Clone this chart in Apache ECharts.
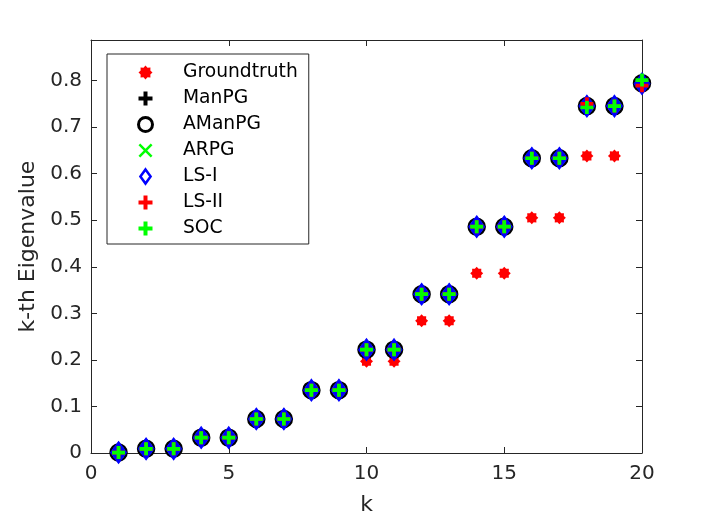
<!DOCTYPE html>
<html>
<head>
<meta charset="utf-8">
<script src="https://cdn.jsdelivr.net/npm/echarts@6/dist/echarts.min.js"></script>
<style>
  html, body { margin: 0; padding: 0; background: #fff; }
  #chartExample { width: 708px; height: 521px; }
</style>
</head>
<body>
<div id="chartExample"></div>
<script>
// k index and eigenvalues
var kValues = [1, 2, 3, 4, 5, 6, 7, 8, 9, 10, 11, 12, 13, 14, 15, 16, 17, 18, 19, 20];
var groundtruth = [0.000, 0.008, 0.008, 0.032, 0.032, 0.072, 0.072, 0.128, 0.128, 0.197, 0.197, 0.284, 0.284, 0.386, 0.386, 0.505, 0.505, 0.638, 0.638, 0.787];
var manpg  = [0.001, 0.009, 0.009, 0.033, 0.033, 0.073, 0.073, 0.135, 0.135, 0.222, 0.222, 0.341, 0.341, 0.486, 0.486, 0.633, 0.633, 0.745, 0.745, 0.794];
var amanpg = [0.001, 0.009, 0.009, 0.033, 0.033, 0.073, 0.073, 0.135, 0.135, 0.222, 0.222, 0.341, 0.341, 0.486, 0.486, 0.633, 0.633, 0.745, 0.745, 0.794];
var arpg   = [0.001, 0.009, 0.009, 0.033, 0.033, 0.073, 0.073, 0.135, 0.135, 0.222, 0.222, 0.341, 0.341, 0.486, 0.486, 0.633, 0.633, 0.745, 0.745, 0.794];
var lsI    = [0.001, 0.009, 0.009, 0.033, 0.033, 0.073, 0.073, 0.135, 0.135, 0.222, 0.222, 0.341, 0.341, 0.486, 0.486, 0.633, 0.633, 0.745, 0.745, 0.793];
var lsII   = [0.001, 0.009, 0.009, 0.033, 0.033, 0.073, 0.073, 0.135, 0.135, 0.222, 0.222, 0.341, 0.341, 0.486, 0.486, 0.633, 0.633, 0.750, 0.745, 0.789];
var soc    = [0.001, 0.009, 0.009, 0.033, 0.033, 0.073, 0.073, 0.135, 0.135, 0.222, 0.222, 0.341, 0.341, 0.486, 0.486, 0.633, 0.633, 0.742, 0.745, 0.801];

// marker shapes
var plusPath = 'path://M-2,-7H2V-2H7V2H2V7H-2V2H-7V-2H-2Z';
var crossPath = 'path://M-6,-4.5L-4.5,-6L0,-1.5L4.5,-6L6,-4.5L1.5,0L6,4.5L4.5,6L0,1.5L-4.5,6L-6,4.5L-1.5,0Z';
var diamondPath = 'path://M0,-11L8,0L0,11L-8,0Z';
var starPath = (function () {
    var pts = [];
    for (var i = 0; i < 16; i++) {
        var r = i % 2 === 0 ? 10 : 7.5;
        var a = i * Math.PI / 8 - Math.PI / 2;
        pts.push((r * Math.cos(a)).toFixed(2) + ',' + (r * Math.sin(a)).toFixed(2));
    }
    return 'path://M' + pts.join('L') + 'Z';
})();

function pairs(arr) {
    return kValues.map(function (k, i) { return [k, arr[i]]; });
}

var axisColor = '#262626';
var font = 'DejaVu Sans';

var myChart = echarts.init(document.getElementById('chartExample'));
var option = {
    animation: false,
    backgroundColor: '#fff',
    textStyle: { fontFamily: font },
    grid: { left: 91, right: 66, top: 40, bottom: 67 },
    legend: {
        orient: 'vertical',
        left: 107,
        top: 54,
        padding: [9, 11, 6, 30],
        itemWidth: 65,
        itemHeight: 14,
        itemGap: 7,
        selectedMode: false,
        borderColor: axisColor,
        borderWidth: 1,
        backgroundColor: '#fff',
        textStyle: { fontFamily: font, fontSize: 18.7, color: '#000' },
        data: [
            'Groundtruth', 'ManPG',
            { name: 'AManPG', itemStyle: { color: '#fff', borderColor: '#000', borderWidth: 3 } },
            'ARPG',
            { name: 'LS-I', itemStyle: { color: '#fff', borderColor: '#0000ff', borderWidth: 2.5 } },
            'LS-II', 'SOC'
        ]
    },
    xAxis: [{
        type: 'value', min: 0, max: 20, interval: 5,
        name: 'k', nameLocation: 'middle', nameGap: 41,
        nameTextStyle: { fontFamily: font, fontSize: 22, color: axisColor },
        axisLine: { onZero: false, lineStyle: { color: axisColor, width: 1 } },
        axisTick: { inside: true, length: 6, lineStyle: { color: axisColor } },
        axisLabel: { fontFamily: font, fontSize: 20, color: axisColor, margin: 11 },
        splitLine: { show: false }
    }, {
        type: 'value', position: 'top', min: 0, max: 20, interval: 5,
        axisLine: { show: true, onZero: false, lineStyle: { color: axisColor, width: 1 } },
        axisTick: { show: true, inside: true, length: 6, lineStyle: { color: axisColor } },
        axisLabel: { show: false },
        splitLine: { show: false }
    }],
    yAxis: [{
        type: 'value', min: 0, max: 0.887, interval: 0.1,
        name: 'k-th Eigenvalue', nameLocation: 'middle', nameGap: 50,
        nameTextStyle: { fontFamily: font, fontSize: 22, color: axisColor },
        axisLine: { show: true, onZero: false, lineStyle: { color: axisColor, width: 1 } },
        axisTick: { show: true, inside: true, length: 6, lineStyle: { color: axisColor } },
        axisLabel: { fontFamily: font, fontSize: 20, color: axisColor, margin: 9, showMaxLabel: false },
        splitLine: { show: false }
    }, {
        type: 'value', position: 'right', min: 0, max: 0.887, interval: 0.1,
        axisLine: { show: true, onZero: false, lineStyle: { color: axisColor, width: 1 } },
        axisTick: { show: true, inside: true, length: 6, lineStyle: { color: axisColor } },
        axisLabel: { show: false },
        splitLine: { show: false }
    }],
    series: [{
        name: 'Groundtruth', type: 'scatter', data: pairs(groundtruth),
        symbol: starPath, symbolSize: 13,
        itemStyle: { color: '#ff0000', opacity: 1 }
    }, {
        name: 'ManPG', type: 'scatter', data: pairs(manpg),
        symbol: plusPath, symbolSize: 12,
        itemStyle: { color: '#000', opacity: 1 }
    }, {
        name: 'AManPG', type: 'scatter', data: pairs(amanpg),
        symbol: 'circle', symbolSize: 16,
        itemStyle: { color: 'rgba(255,255,255,0)', borderColor: '#000', borderWidth: 2.5, opacity: 1 }
    }, {
        name: 'ARPG', type: 'scatter', data: pairs(arpg),
        symbol: crossPath, symbolSize: 11,
        itemStyle: { color: '#00ff00', opacity: 1 }
    }, {
        name: 'LS-I', type: 'scatter', data: pairs(lsI),
        symbol: diamondPath, symbolSize: [16, 22],
        itemStyle: { color: '#0000ff', borderColor: '#0000ff', borderWidth: 1, opacity: 1 }
    }, {
        name: 'LS-II', type: 'scatter', data: pairs(lsII),
        symbol: plusPath, symbolSize: 13,
        itemStyle: { color: '#ff0000', opacity: 1 }
    }, {
        name: 'SOC', type: 'scatter', data: pairs(soc),
        symbol: plusPath, symbolSize: 13,
        itemStyle: { color: '#00ff00', opacity: 1 }
    }]
};
myChart.setOption(option);
</script>
</body>
</html>
